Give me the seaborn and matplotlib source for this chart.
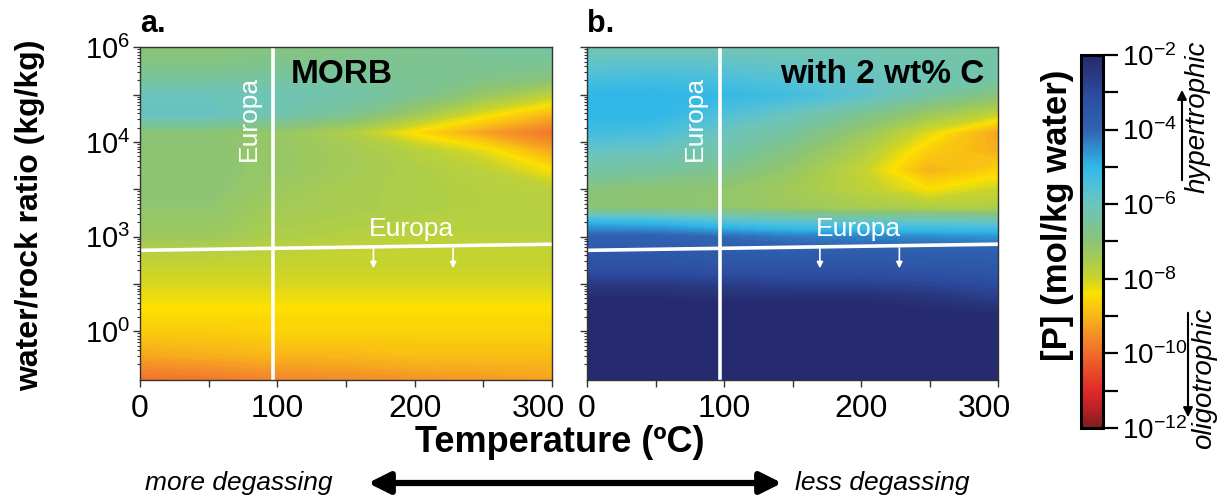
import numpy as np
import matplotlib
matplotlib.use('Agg')
import matplotlib.pyplot as plt
import seaborn as sns
from matplotlib.colors import LinearSegmentedColormap, Normalize
from matplotlib.cm import ScalarMappable
from matplotlib.transforms import ScaledTranslation

sns.set_theme(style='ticks')
plt.rcParams['font.family'] = ['Liberation Sans', 'DejaVu Sans']
plt.rcParams['mathtext.fontset'] = 'custom'
plt.rcParams['mathtext.rm'] = 'Liberation Sans'
plt.rcParams['mathtext.it'] = 'Liberation Sans:italic'
plt.rcParams['mathtext.bf'] = 'Liberation Sans:bold'
for key in ['text.color', 'axes.labelcolor', 'xtick.color', 'ytick.color',
            'xtick.labelcolor', 'ytick.labelcolor']:
    plt.rcParams[key] = 'black'

# ---- data ----
temps = [0, 50, 100, 150, 200, 250, 300]                     # degC
log_wr = [-1.05, -0.5, 0.0, 0.3, 0.7, 1.0, 1.3, 1.7, 2.0, 2.3,
          2.6, 3.0, 3.4, 3.8, 4.2, 4.6, 5.0, 5.4, 6.0]          # log10 water/rock

# log10 [P] (mol/kg water), one row per log_wr value (bottom -> top)
morb_p = [
    [-10.0, -9.9, -9.7, -9.6, -9.5, -9.4, -9.3],
    [-9.2, -9.1, -9.0, -9.0, -8.9, -8.9, -8.9],
    [-8.7, -8.7, -8.6, -8.6, -8.6, -8.6, -8.6],
    [-8.5, -8.5, -8.5, -8.5, -8.5, -8.5, -8.5],
    [-8.3, -8.3, -8.3, -8.3, -8.3, -8.3, -8.3],
    [-8.1, -8.1, -8.1, -8.1, -8.1, -8.1, -8.1],
    [-8.0, -8.0, -8.0, -8.0, -8.0, -8.0, -8.0],
    [-7.7, -7.7, -7.8, -7.9, -7.9, -7.9, -7.9],
    [-7.3, -7.3, -7.6, -7.7, -7.8, -7.8, -7.8],
    [-7.2, -7.2, -7.5, -7.6, -7.7, -7.7, -7.7],
    [-7.1, -7.1, -7.4, -7.5, -7.6, -7.7, -7.7],
    [-7.0, -7.0, -7.3, -7.5, -7.6, -7.7, -7.8],
    [-7.0, -7.0, -7.2, -7.4, -7.6, -7.8, -8.4],
    [-7.0, -7.0, -7.2, -7.4, -7.7, -8.2, -9.2],
    [-7.0, -7.0, -7.2, -7.6, -8.5, -9.3, -9.9],
    [-5.9, -5.9, -6.2, -6.6, -7.3, -8.2, -9.0],
    [-6.0, -6.0, -6.1, -6.3, -6.6, -7.2, -7.8],
    [-6.6, -6.6, -6.5, -6.5, -6.6, -6.7, -6.8],
    [-7.0, -7.0, -6.9, -6.8, -6.7, -6.5, -6.4],
]

carbon_p = [
    [-1.5, -1.5, -1.5, -1.5, -1.5, -1.5, -1.5],
    [-1.5, -1.5, -1.5, -1.5, -1.5, -1.5, -1.5],
    [-1.6, -1.6, -1.6, -1.6, -1.6, -1.6, -1.6],
    [-1.8, -1.8, -1.8, -1.8, -1.8, -1.9, -2.0],
    [-2.1, -2.1, -2.2, -2.2, -2.2, -2.4, -2.7],
    [-2.6, -2.6, -2.7, -2.8, -2.8, -2.9, -3.1],
    [-3.2, -3.2, -3.3, -3.3, -3.3, -3.4, -3.5],
    [-3.6, -3.6, -3.7, -3.8, -3.8, -3.8, -3.9],
    [-3.9, -3.9, -4.1, -4.3, -4.4, -4.5, -4.6],
    [-5.0, -5.1, -5.5, -5.7, -5.8, -5.8, -5.9],
    [-7.0, -7.0, -7.1, -7.3, -7.5, -7.6, -7.6],
    [-6.9, -7.0, -7.1, -7.4, -7.8, -8.4, -8.0],
    [-6.4, -6.5, -6.7, -7.2, -7.9, -9.1, -8.6],
    [-5.9, -6.0, -6.3, -6.9, -7.6, -8.7, -9.1],
    [-5.3, -5.4, -6.0, -6.5, -7.2, -8.2, -9.3],
    [-5.0, -5.0, -5.5, -6.0, -6.6, -7.3, -7.9],
    [-5.0, -5.0, -5.1, -5.3, -5.7, -6.4, -6.9],
    [-5.5, -5.4, -5.5, -5.7, -5.9, -6.1, -6.3],
    [-6.2, -6.2, -6.2, -6.2, -6.2, -6.3, -6.4],
]

# Europa reference lines
europa_temp = 97
europa_line_temps = [0, 300]
europa_line_wr = [1.71, 1.84]
arrow_temps = [170, 228]

# ---- colour map ----
cmap_stops = [
    (-12.0, '#7c1e1e'), (-11.5, '#b82226'), (-11.0, '#e02a2a'),
    (-10.5, '#ea4a2a'), (-10.0, '#f06e2a'), (-9.5, '#f49028'),
    (-9.0, '#f8b818'), (-8.4, '#fce000'), (-8.0, '#cad42a'),
    (-7.5, '#a8cc50'), (-7.0, '#8cc474'), (-6.5, '#78c49c'),
    (-6.0, '#6cc4bc'), (-5.5, '#50c0d8'), (-5.0, '#30b8e8'),
    (-4.5, '#2f8fd0'), (-4.0, '#3064b2'), (-3.0, '#2c4a9e'),
    (-2.5, '#29387f'), (-2.0, '#262a6e'),
]
p_cmap = LinearSegmentedColormap.from_list(
    'p', [((v + 12) / 10, c) for v, c in cmap_stops])
p_cmap.set_over('#262a6e')
p_cmap.set_under('#7c1e1e')
norm = Normalize(-12, -2)
levels = np.linspace(-12, -2, 201)

W, H = 1225, 500
fig = plt.figure(figsize=(W / 100, H / 100), dpi=100)

def fx(px):
    return px / W

def fy(py):
    return 1 - py / H

ytop, ybot = 47.3, 380.0
ax_a = fig.add_axes([fx(140), fy(ybot), (552 - 140) / W, (ybot - ytop) / H])
ax_b = fig.add_axes([fx(587), fy(ybot), (998 - 587) / W, (ybot - ytop) / H])
cax = fig.add_axes([fx(1081), fy(428), 22 / W, (428 - 55) / H])

minor_y = [n + np.log10(k) for n in range(-2, 6) for k in range(2, 10)]
minor_y = [m for m in minor_y if -1.03 <= m <= 6]


def draw_panel(ax, grid, name, name_x, name_ha, show_ylabels):
    ax.contourf(temps, log_wr, np.array(grid), levels=levels, cmap=p_cmap,
                norm=norm, extend='both', antialiased=False)
    ax.set_xlim(0, 300)
    ax.set_ylim(-1.03, 6)
    ax.axvline(europa_temp, color='white', lw=2.6)
    ax.plot(europa_line_temps, europa_line_wr, color='white', lw=2.6)
    for t in arrow_temps:
        ax.annotate('', xy=(t, 1.33), xytext=(t, 1.76),
                    arrowprops=dict(arrowstyle='-|>', color='white', lw=1.2,
                                    mutation_scale=9, shrinkA=0, shrinkB=0))
    ax.text(198, 2.17, 'Europa', color='white', fontsize=19,
            ha='center', va='center')
    ax.text(79, 4.5, 'Europa', color='white', fontsize=19, rotation=90,
            ha='center', va='center')
    ax.text(name_x, 5.42, name, fontsize=24, fontweight='bold',
            ha=name_ha, va='center', color='black')

    ax.set_xticks(temps)
    ax.set_xticklabels(['0', '', '100', '', '200', '', '300'])
    ax.set_yticks([0, 1, 2, 3, 4, 5, 6])
    if show_ylabels:
        ax.set_yticklabels(['$10^{0}$', '', '$10^{3}$', '', '$10^{4}$', '',
                            '$10^{6}$'])
    else:
        ax.set_yticklabels([])
    ax.set_yticks(minor_y, minor=True)
    ax.tick_params(axis='x', labelsize=23, length=5, width=1, pad=5,
                   direction='out', color='#333333', labelcolor='black')
    ax.tick_params(axis='y', labelsize=21, length=5, width=1, pad=2,
                   direction='out', color='#333333', labelcolor='black')
    ax.tick_params(axis='y', which='minor', length=2.5, width=0.8,
                   direction='out', color='#333333')
    for s in ax.spines.values():
        s.set_color('#333333')
        s.set_linewidth(1.0)
    # last x label pulled left so it does not collide with the next panel
    lab = ax.get_xticklabels()[-1]
    lab.set_transform(lab.get_transform() +
                      ScaledTranslation(-14 / 100, 0, fig.dpi_scale_trans))


draw_panel(ax_a, morb_p, 'MORB', 110, 'left', True)
draw_panel(ax_b, carbon_p, 'with 2 wt% C', 290, 'right', False)

# colour bar
cb = fig.colorbar(ScalarMappable(norm=norm, cmap=p_cmap), cax=cax)
cb.set_ticks(np.arange(-12, -1, 1))
cb.set_ticklabels(['$10^{%d}$' % v if v % 2 == 0 else ''
                   for v in range(-12, -1)])
cb.ax.tick_params(labelsize=20, length=11, width=1.6, direction='out',
                  color='black', labelcolor='black', pad=3)
cb.outline.set_linewidth(2.2)
cb.outline.set_edgecolor('black')

fig.text(fx(1058), fy(215), '[P] (mol/kg water)', rotation=90, fontsize=25,
         fontweight='bold', ha='center', va='center')
fig.text(fx(1198), fy(117), 'hypertrophic', rotation=90, fontsize=20,
         style='italic', ha='center', va='center')
fig.text(fx(1204), fy(378), 'oligotrophic', rotation=90, fontsize=20,
         style='italic', ha='center', va='center')
fig.add_artist(matplotlib.patches.FancyArrowPatch(
    (fx(1182), fy(183)), (fx(1182), fy(87)), transform=fig.transFigure,
    arrowstyle='-|>', mutation_scale=14, lw=1.5, color='black'))
fig.add_artist(matplotlib.patches.FancyArrowPatch(
    (fx(1188), fy(310)), (fx(1188), fy(420)), transform=fig.transFigure,
    arrowstyle='-|>', mutation_scale=14, lw=1.5, color='black'))

# labels
fig.text(fx(140), fy(24), 'a.', fontsize=22, fontweight='bold',
         ha='left', va='center')
fig.text(fx(587), fy(24), 'b.', fontsize=22, fontweight='bold',
         ha='left', va='center')
fig.text(fx(30), fy(215), 'water/rock ratio (kg/kg)', rotation=90,
         fontsize=23, fontweight='bold', ha='center', va='center')
fig.text(fx(560), fy(442), 'Temperature (ºC)', fontsize=26,
         fontweight='bold', ha='center', va='center')

# degassing arrow
fig.text(fx(145), fy(483), 'more degassing', fontsize=19, style='italic',
         ha='left', va='center')
fig.text(fx(795), fy(483), 'less degassing', fontsize=19, style='italic',
         ha='left', va='center')
fig.add_artist(matplotlib.patches.FancyArrowPatch(
    (fx(368), fy(483)), (fx(782), fy(483)), transform=fig.transFigure,
    arrowstyle='<|-|>', mutation_scale=32, lw=4.5, color='black',
    shrinkA=0, shrinkB=0))

fig.savefig('out.png', dpi=100)
